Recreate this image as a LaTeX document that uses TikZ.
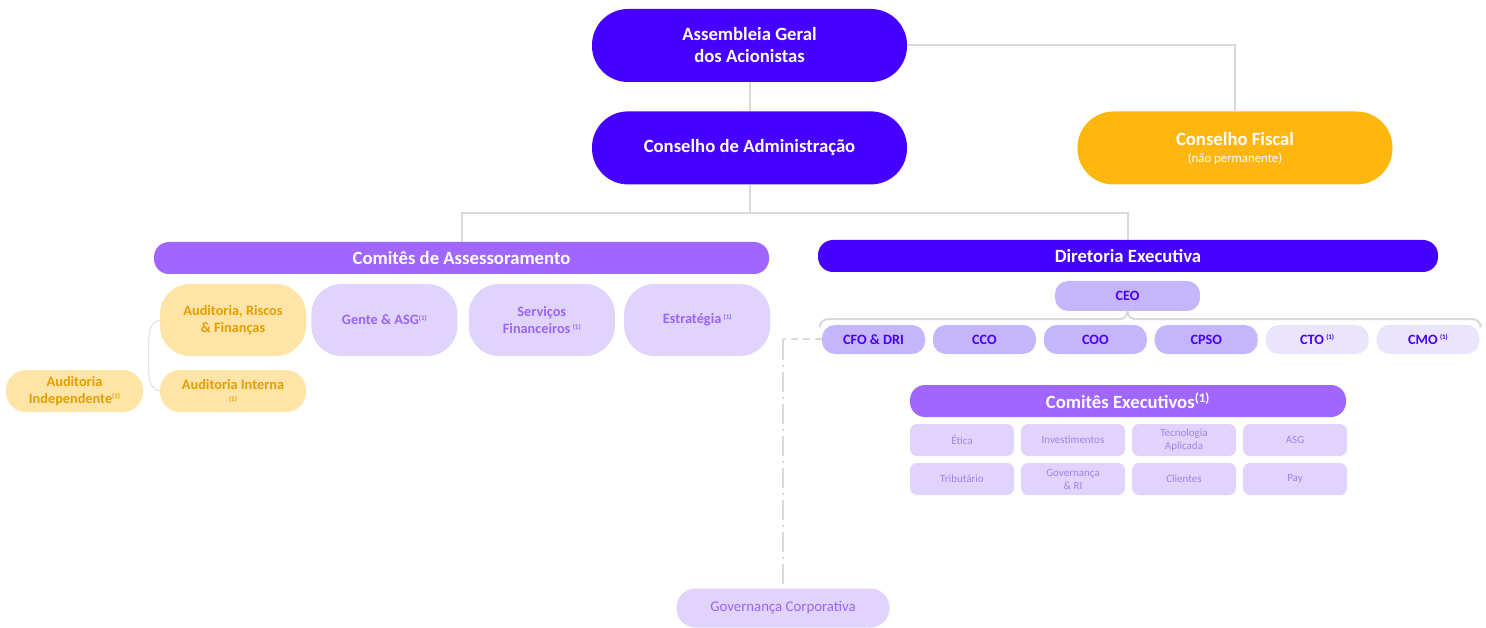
\documentclass[tikz,border=0pt]{standalone}
\usepackage{fontspec}
\setmainfont{Carlito}
\usetikzlibrary{positioning, calc}
\definecolor{indigo}{RGB}{70,0,255}
\definecolor{amber}{RGB}{255,183,15}
\definecolor{violet}{RGB}{160,102,255}
\definecolor{lilac}{RGB}{224,212,253}
\definecolor{lilactext}{RGB}{155,100,250}
\definecolor{sand}{RGB}{255,228,168}
\definecolor{gold}{RGB}{228,158,0}
\definecolor{lavender}{RGB}{197,181,250}
\definecolor{paler}{RGB}{234,228,253}
\definecolor{softtext}{RGB}{160,132,235}
\definecolor{linegray}{RGB}{217,217,217}
\newcommand{\nota}{\raisebox{0.6ex}{\fontsize{7}{7}\selectfont(1)}}
\tikzstyle{topbox} = [rectangle, rounded corners=36pt, minimum width=315pt, minimum height=73pt, text centered, align=center, fill=indigo, text=white, font=\fontsize{18.7}{22}\selectfont\bfseries]
\tikzstyle{header} = [rectangle, rounded corners=15pt, minimum height=32pt, text centered, fill=violet, text=white, font=\fontsize{18.7}{22}\selectfont\bfseries]
\tikzstyle{advisor} = [rectangle, rounded corners=30pt, minimum width=146pt, minimum height=72pt, text centered, align=center, fill=lilac, text=lilactext, font=\fontsize{14.3}{17.5}\selectfont\bfseries]
\tikzstyle{audit} = [advisor, fill=sand, text=gold]
\tikzstyle{officer} = [rectangle, rounded corners=13pt, minimum width=103pt, minimum height=29pt, text centered, fill=lavender, text=indigo, font=\fontsize{14.2}{16}\selectfont\bfseries]
\tikzstyle{execcom} = [rectangle, rounded corners=7pt, minimum width=104pt, minimum height=32pt, text centered, align=center, fill=lilac, text=softtext, font=\fontsize{11}{13}\selectfont]
\tikzstyle{connector} = [draw=linegray, line width=2pt]
\tikzstyle{bracket} = [draw=linegray, line width=0.8pt]

\begin{document}
\begin{tikzpicture}[x=1pt, y=-1pt, node distance=6.6pt]
    \useasboundingbox (0,0) rectangle (1486,628);
    % Nodes
    \node (agm) [topbox] at (749.5,45.5) {Assembleia Geral\\dos Acionistas};
    \node (board) [topbox, below=29pt of agm] {Conselho de Administração};
    \node (fiscal) [topbox, fill=amber] at (1235,148) {Conselho Fiscal\\[-5pt]{\fontsize{12.8}{14}\selectfont\mdseries (não permanente)}};

    \node (advisory) [header, minimum width=615pt] at (461.5,258) {Comitês de Assessoramento};
    \node (arf) [audit] at (233,320) {Auditoria, Riscos\\\& Finanças};
    \node (people) [advisor, right=5pt of arf] {Gente \& ASG\nota};
    \node (finserv) [advisor, right=11pt of people] {Serviços\\Financeiros\,\nota};
    \node (strategy) [advisor, right=9pt of finserv] {Estratégia\,\nota};
    \node (internal) [audit, minimum height=42pt, rounded corners=20pt] at (233,391) {Auditoria Interna\\[-5pt]{\fontsize{7}{8}\selectfont (1)}};
    \node (external) [audit, minimum width=137pt, minimum height=42pt, rounded corners=20pt] at (74.5,391) {Auditoria\\[-1pt]Independente\nota};

    \node (exec) [header, minimum width=620pt, fill=indigo] at (1128,256) {Diretoria Executiva};
    \node (ceo) [officer, minimum width=145pt, minimum height=30pt] at (1127.5,296) {CEO};
    \node (cfo) [officer] at (873.5,339.5) {CFO \& DRI};
    \node (cco) [officer, right=7.5pt of cfo] {CCO};
    \node (coo) [officer, right=7.5pt of cco] {COO};
    \node (cpso) [officer, right=7.5pt of coo] {CPSO};
    \node (cto) [officer, fill=paler, right=7.5pt of cpso] {CTO\,\nota};
    \node (cmo) [officer, fill=paler, right=7.5pt of cto] {CMO\,\nota};

    \node (execcom) [header, minimum width=436pt] at (1128,401) {Comitês Executivos\textsuperscript{(1)}};
    \node (ethics) [execcom] at (962,440) {Ética};
    \node (invest) [execcom, right=of ethics] {Investimentos};
    \node (tech) [execcom, right=of invest] {Tecnologia\\Aplicada};
    \node (esg) [execcom, right=of tech] {ASG};
    \node (tax) [execcom, below=of ethics] {Tributário};
    \node (govri) [execcom, below=of invest] {Governança\\\& RI};
    \node (clients) [execcom, below=of tech] {Clientes};
    \node (pay) [execcom, below=of esg] {Pay};

    \node (gov) [advisor, minimum width=213pt, minimum height=39pt, rounded corners=19pt, font=\fontsize{14.8}{16}\selectfont] at (783,608) {Governança Corporativa};

    % Connectors
    \draw [connector] (agm) -- (board);
    \draw [connector] (agm.east) -| (fiscal.north);
    \draw [connector] (board.south) -- ++(0,28) coordinate (split);
    \draw [connector] (advisory.north) |- (split) -| (exec.north);
    \draw [connector, rounded corners=8pt] ($(cfo.north west)+(-2,-1)$) |- ($(ceo.south)+(0,8)$) -- (ceo.south);
    \draw [connector, rounded corners=8pt] ($(cmo.north east)+(1,-1)$) |- ($(ceo.south)+(0,8)$) -- (ceo.south);
    \draw [bracket] (arf.west) to[out=190,in=90] ++(-11,22) -- ++(0,30) to[out=-90,in=170] (internal.west);
    \coordinate (govturn) at (gov.north |- cfo.west);
    \draw [connector, dash pattern=on 7pt off 5pt] (cfo.west) -- (govturn);
    \draw [connector, dash pattern=on 20pt off 5pt on 2pt off 5pt] (govturn) -- (gov.north);
\end{tikzpicture}
\end{document}
